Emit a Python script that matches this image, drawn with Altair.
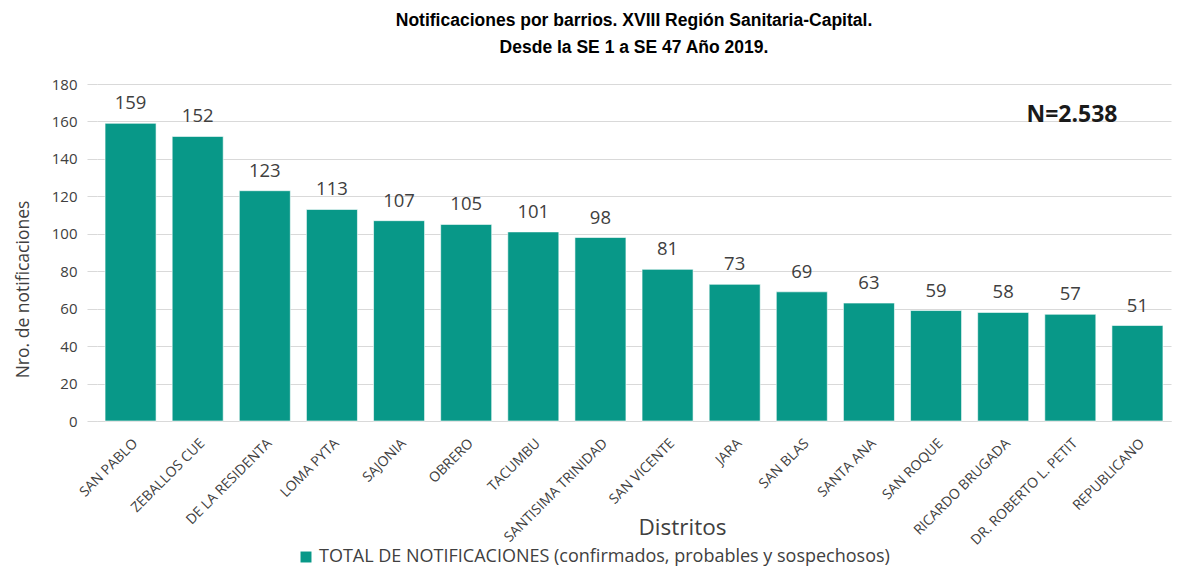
import altair as alt
import pandas as pd

barrios = ["SAN PABLO", "ZEBALLOS CUE", "DE LA RESIDENTA", "LOMA PYTA", "SAJONIA",
           "OBRERO", "TACUMBU", "SANTISIMA TRINIDAD", "SAN VICENTE", "JARA",
           "SAN BLAS", "SANTA ANA", "SAN ROQUE", "RICARDO BRUGADA",
           "DR. ROBERTO L. PETIT", "REPUBLICANO"]
notificaciones = [159, 152, 123, 113, 107, 105, 101, 98, 81, 73, 69, 63, 59, 58, 57, 51]
serie = "TOTAL DE NOTIFICACIONES (confirmados, probables y sospechosos)"
y_ticks = [0, 20, 40, 60, 80, 100, 120, 140, 160, 180]

df = pd.DataFrame({"barrio": barrios, "n": notificaciones, "serie": serie})
teal = "#089888"
FONT = "Open Sans"

base = alt.Chart(df).encode(
    x=alt.X("barrio:N", sort=None, title="Distritos",
            scale=alt.Scale(paddingInner=0.24, paddingOuter=0.12),
            axis=alt.Axis(labelAngle=-45, labelFontSize=14, labelColor="#404040",
                          labelFont=FONT, labelPadding=15, labelOverlap=False,
                          ticks=False, domain=True, domainColor="#d9d9d9",
                          titleFontSize=22.5, titleFont=FONT, titleFontWeight="normal",
                          titleColor="#404040", titleY=106, titleX=585,
                          titleAlign="center", titleBaseline="middle")),
    y=alt.Y("n:Q", title="Nro. de notificaciones",
            scale=alt.Scale(domain=[0, 180], nice=False),
            axis=alt.Axis(values=y_ticks, labelFontSize=15, labelColor="#404040",
                          labelFont=FONT, gridColor="#d9d9d9", domain=False,
                          labelOverlap=False,
                          tickColor="#d9d9d9", tickSize=10, labelPadding=10,
                          titleFontSize=17.5, titleFont=FONT, titleFontWeight="normal",
                          titleColor="#404040", titlePadding=19, titleY=205,
                          titleAlign="center")),
)

bars = base.mark_bar(stroke="#ffffff", strokeWidth=0.6).encode(
    color=alt.Color("serie:N", scale=alt.Scale(range=[teal]),
                    legend=alt.Legend(title=None, orient="none", legendX=200, legendY=464,
                                      symbolType="square", symbolSize=120,
                                      labelFontSize=18, labelFont=FONT,
                                      labelColor="#404040", symbolStrokeWidth=0,
                                      labelLimit=900)),
)

labels = base.mark_text(dy=-20, fontSize=18.5, font=FONT, color="#404040").encode(
    text="n:Q"
)

ntext = alt.Chart(pd.DataFrame({"t": ["N=2.538"]})).mark_text(
    fontSize=23, fontWeight="bold", font=FONT, color="#1a1a1a", align="center"
).encode(x=alt.value(975), y=alt.value(31), text="t:N")

chart = alt.layer(bars, labels, ntext).properties(
    width=1074, height=337, background="#ffffff",
    title=alt.TitleParams(
        ["Notificaciones por barrios. XVIII Región Sanitaria-Capital.",
         "Desde la SE 1 a SE 47 Año 2019."],
        fontSize=17.5, font="Liberation Sans", fontWeight="bold", color="#000000",
        anchor="middle", lineHeight=27, offset=21),
    autosize=alt.AutoSizeParams(type="none"),
    padding={"left": 89, "top": 76, "right": 23, "bottom": 151},
).configure_view(stroke=None)

chart.save("out.html", embed_options={"renderer": "svg", "actions": False})
